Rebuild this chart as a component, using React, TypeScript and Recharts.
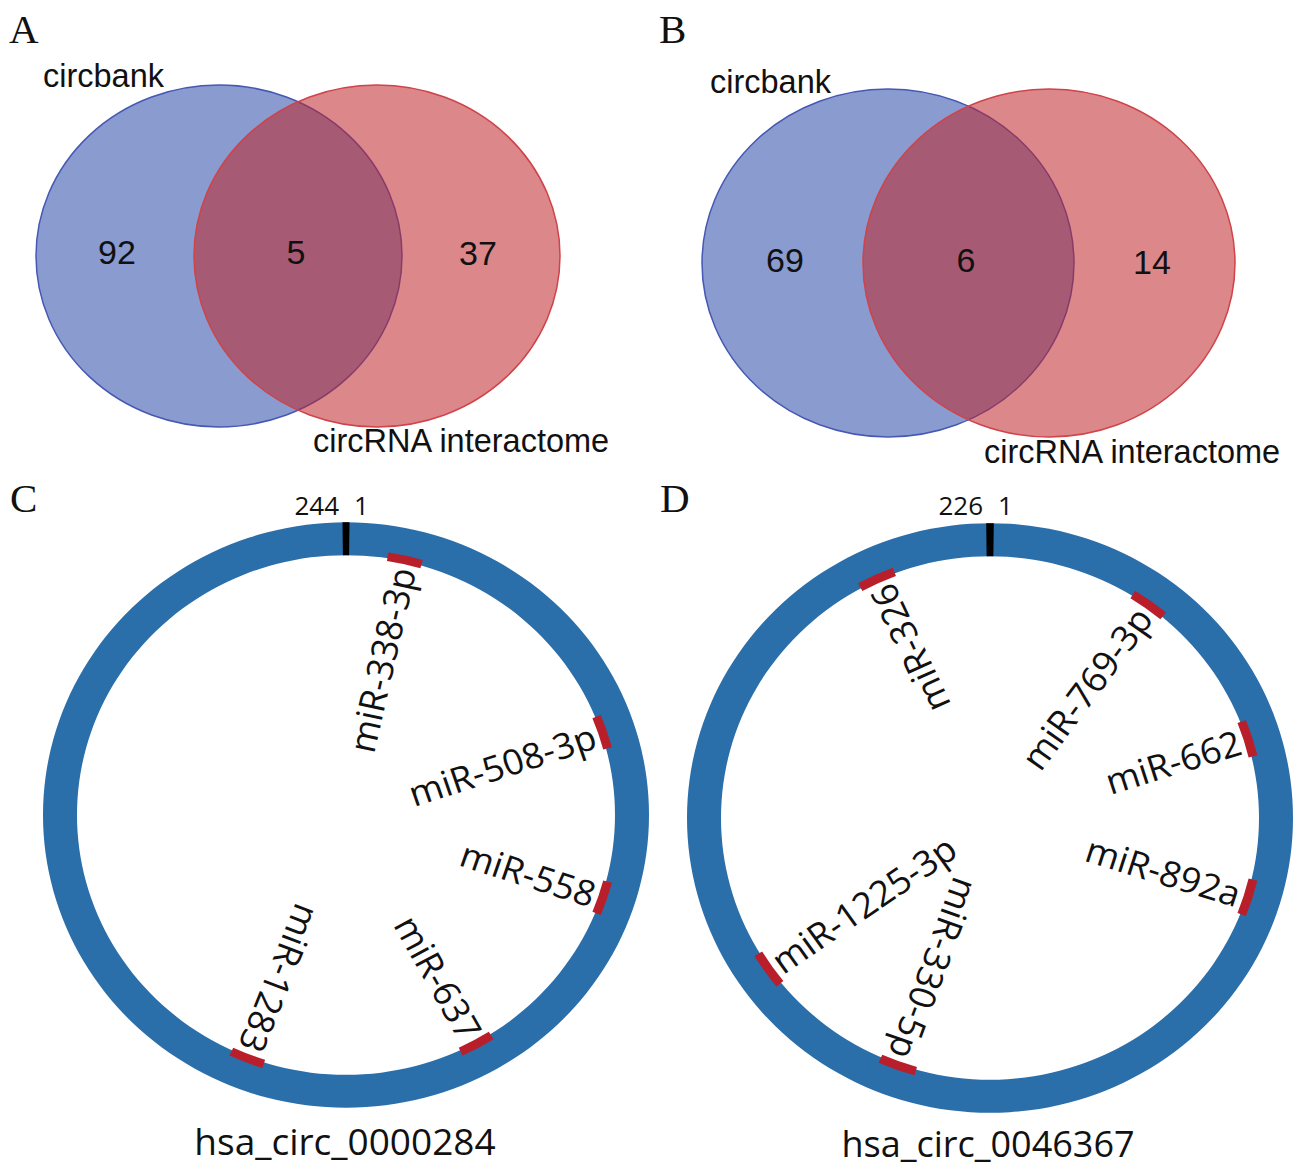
import { PieChart, Pie, Cell, ScatterChart, Scatter, XAxis, YAxis } from "recharts";

/* ── data ─────────────────────────────────────────────────── */
const vennASets = ["circbank", "circRNA interactome"];
const vennACounts = [92, 5, 37]; // left only, shared, right only
const vennBSets = ["circbank", "circRNA interactome"];
const vennBCounts = [69, 6, 14];

const circCName = "hsa_circ_0000284";
const circCLength = 244;
const circCMirnas = ["miR-338-3p", "miR-508-3p", "miR-558", "miR-637", "miR-1283"];
const circCSites = [6, 46, 71, 100, 134]; // start position of each site

const circDName = "hsa_circ_0046367";
const circDLength = 226;
const circDMirnas = ["miR-769-3p", "miR-662", "miR-892a", "miR-330-5p", "miR-1225-3p", "miR-326"];
const circDSites = [20, 43, 65, 123, 145, 208];

const SITE_LEN = 5;

/* ── layout / style ───────────────────────────────────────── */
const FLIPPED = ["miR-1225-3p"]; // labels drawn reading outward-in
const BLUE = "#2a48a8";
const RED = "#c0242a";
const RING = "#2a6eaa";
const SITE = "#b91f2a";

// venn geometry, in panel pixel units
const vennALayout = {
  circles: [
    { x: 219, y: 256, rx: 183, ry: 171 },
    { x: 377, y: 256, rx: 183, ry: 171 },
  ],
  counts: [
    { x: 117, y: 252 },
    { x: 296, y: 252 },
    { x: 478, y: 253 },
  ],
  names: [
    { x: 43, y: 87 },
    { x: 313, y: 452 },
  ],
};
const vennBLayout = {
  circles: [
    { x: 238, y: 263, rx: 186, ry: 174 },
    { x: 399, y: 263, rx: 186, ry: 174 },
  ],
  counts: [
    { x: 135, y: 260 },
    { x: 316, y: 260 },
    { x: 502, y: 262 },
  ],
  names: [
    { x: 60, y: 93 },
    { x: 334, y: 463 },
  ],
};

/* ── Venn panel ───────────────────────────────────────────── */
interface VennProps {
  sets: string[];
  counts: number[];
  layout: typeof vennALayout;
}

function Venn({ sets, counts, layout }: VennProps) {
  const colors = [BLUE, RED];
  const strokes = ["#4658b4", "#cf4349"];
  const circles = layout.circles.map((c, i) => ({ ...c, i }));
  const countPts = layout.counts.map((c, i) => ({ ...c, v: counts[i] }));
  const namePts = layout.names.map((c, i) => ({ ...c, v: sets[i] }));

  return (
    <ScatterChart width={650} height={470} margin={{ top: 0, right: 0, bottom: 0, left: 0 }}>
      <XAxis type="number" dataKey="x" domain={[0, 650]} hide allowDataOverflow />
      <YAxis type="number" dataKey="y" domain={[0, 470]} reversed hide allowDataOverflow />
      <Scatter
        data={circles}
        isAnimationActive={false}
        shape={(p: any) => (
          <ellipse
            cx={p.cx}
            cy={p.cy}
            rx={p.payload.rx}
            ry={p.payload.ry}
            fill={colors[p.payload.i]}
            fillOpacity={0.55}
            stroke={strokes[p.payload.i]}
            strokeWidth={1.5}
          />
        )}
      />
      <Scatter
        data={countPts}
        isAnimationActive={false}
        shape={(p: any) => (
          <text
            x={p.cx}
            y={p.cy}
            textAnchor="middle"
            dominantBaseline="central"
            fontFamily="'Liberation Sans', Arial, sans-serif"
            fontSize={34}
            fill="#111"
          >
            {p.payload.v}
          </text>
        )}
      />
      <Scatter
        data={namePts}
        isAnimationActive={false}
        shape={(p: any) => (
          <text
            x={p.cx}
            y={p.cy}
            textAnchor="start"
            fontFamily="'Liberation Sans', Arial, sans-serif"
            fontSize={32.5}
            fill="#111"
          >
            {p.payload.v}
          </text>
        )}
      />
    </ScatterChart>
  );
}

/* ── circRNA ring panel ───────────────────────────────────── */
function buildSegments(length: number, sites: number[], names: string[]) {
  const segs: { value: number; mirna: string }[] = [];
  let cursor = 0;
  sites.forEach((start, i) => {
    if (start > cursor) segs.push({ value: start - cursor, mirna: "" });
    segs.push({ value: SITE_LEN, mirna: names[i] });
    cursor = start + SITE_LEN;
  });
  if (cursor < length) segs.push({ value: length - cursor, mirna: "" });
  return segs;
}

function siteLabel(props: any) {
  const { cx, cy, midAngle, innerRadius } = props;
  const label = props.mirna ?? props.payload?.mirna;
  if (!label) return null;
  const r = innerRadius - 4;
  const rad = (-midAngle * Math.PI) / 180;
  const x = cx + r * Math.cos(rad);
  const y = cy + r * Math.sin(rad);
  const flip = FLIPPED.includes(label);
  const rot = flip ? 180 - midAngle : -midAngle;
  return (
    <text
      x={x}
      y={y}
      transform={`rotate(${rot} ${x} ${y})`}
      textAnchor={flip ? "start" : "end"}
      dominantBaseline="central"
      fontFamily="'Open Sans', sans-serif"
      fontSize={36.5}
      fill="#111"
    >
      {label}
    </text>
  );
}

interface RingProps {
  length: number;
  sites: number[];
  mirnas: string[];
  cx: number;
  cy: number;
}

const OUTER = 303;
const INNER = 269;
const TICK_HALF = 0.45;

function Ring({ length, sites, mirnas, cx, cy }: RingProps) {
  const segs = buildSegments(length, sites, mirnas);
  const tick = [
    { value: TICK_HALF, pos: "1" },
    { value: length - 2 * TICK_HALF, pos: "" },
    { value: TICK_HALF, pos: String(length) },
  ];
  const tickLabel = (p: any) => {
    const pos = p.pos ?? p.payload?.pos;
    if (!pos) return null;
    const right = pos === "1";
    return (
      <text
        x={p.cx + (right ? 8 : -7)}
        y={p.cy - p.outerRadius - 8}
        textAnchor={right ? "start" : "end"}
        fontFamily="'Open Sans', sans-serif"
        fontSize={26}
        fill="#111"
      >
        {pos}
      </text>
    );
  };

  return (
    <PieChart width={650} height={698} margin={{ top: 0, right: 0, bottom: 0, left: 0 }}>
      <Pie
        data={[{ value: length }]}
        dataKey="value"
        cx={cx}
        cy={cy}
        innerRadius={INNER}
        outerRadius={OUTER}
        startAngle={90}
        endAngle={-270}
        fill={RING}
        stroke="none"
        isAnimationActive={false}
      />
      <Pie
        data={tick}
        dataKey="value"
        cx={cx}
        cy={cy}
        innerRadius={INNER}
        outerRadius={OUTER}
        startAngle={90}
        endAngle={-270}
        stroke="none"
        label={tickLabel}
        labelLine={false}
        isAnimationActive={false}
      >
        {tick.map((t, i) => (
          <Cell key={i} fill={t.pos ? "#000" : "transparent"} />
        ))}
      </Pie>
      <Pie
        data={segs}
        dataKey="value"
        cx={cx}
        cy={cy}
        innerRadius={INNER - 3}
        outerRadius={INNER + 6}
        startAngle={90}
        endAngle={-270}
        stroke="none"
        label={siteLabel}
        labelLine={false}
        isAnimationActive={false}
      >
        {segs.map((s, i) => (
          <Cell key={i} fill={s.mirna ? SITE : "transparent"} />
        ))}
      </Pie>
    </PieChart>
  );
}

/* ── page ─────────────────────────────────────────────────── */
export default function App() {
  const serif = "'Liberation Serif', 'Times New Roman', serif";
  const sans = "'Open Sans', sans-serif";
  return (
    <div
      style={{
        position: "absolute",
        left: 0,
        top: 0,
        width: 1300,
        height: 1168,
        background: "#fff",
        overflow: "hidden",
      }}
    >
      <div style={{ position: "absolute", left: 0, top: 0 }}>
        <Venn sets={vennASets} counts={vennACounts} layout={vennALayout} />
      </div>
      <div style={{ position: "absolute", left: 650, top: 0 }}>
        <Venn sets={vennBSets} counts={vennBCounts} layout={vennBLayout} />
      </div>
      <div
        style={{
          position: "absolute",
          left: 0,
          top: 470,
          transform: "scaleY(0.966)",
          transformOrigin: "346px 345px",
        }}
      >
        <Ring length={circCLength} sites={circCSites} mirnas={circCMirnas} cx={346} cy={345} />
      </div>
      <div
        style={{
          position: "absolute",
          left: 650,
          top: 470,
          transform: "scaleY(0.973)",
          transformOrigin: "340px 348px",
        }}
      >
        <Ring length={circDLength} sites={circDSites} mirnas={circDMirnas} cx={340} cy={348} />
      </div>
      <svg
        width={1300}
        height={1168}
        style={{ position: "absolute", left: 0, top: 0, pointerEvents: "none" }}
      >
        <text x={9} y={43} fontFamily={serif} fontSize={41} fill="#111">A</text>
        <text x={659} y={43} fontFamily={serif} fontSize={41} fill="#111">B</text>
        <text x={10} y={512} fontFamily={serif} fontSize={41} fill="#111">C</text>
        <text x={660} y={512} fontFamily={serif} fontSize={41} fill="#111">D</text>
        <text x={345} y={1155} textAnchor="middle" fontFamily={sans} fontSize={37} fill="#111">
          {circCName}
        </text>
        <text x={988} y={1157} textAnchor="middle" fontFamily={sans} fontSize={36} fill="#111">
          {circDName}
        </text>
      </svg>
    </div>
  );
}
